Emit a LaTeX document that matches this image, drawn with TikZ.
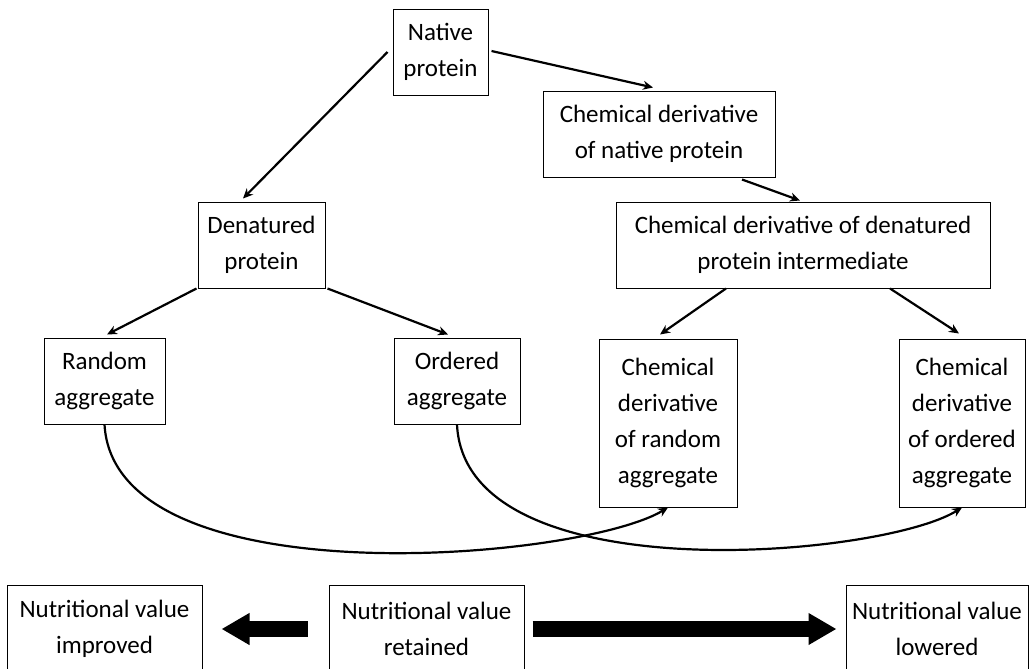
\documentclass[tikz,border=0pt]{standalone}
\usepackage{fontspec}
\setmainfont{Carlito}
\usepackage{tikz}
\usetikzlibrary{positioning, arrows.meta}

\tikzset{
	box/.style={draw, line width=0.5pt, align=center, inner sep=0pt, minimum height=43pt, font=\fontsize{12.5pt}{18pt}\selectfont},
	tallbox/.style={box, minimum height=84pt},
	lowbox/.style={box, minimum width=97.5pt, minimum height=44pt},
	arr/.style={line width=1.1pt, -{Stealth[length=5pt, width=4.5pt]}},
	fatarrow/.style={line width=8pt, -{Triangle[width=15pt, length=14pt]}}
}

\begin{document}
\begin{tikzpicture}[x=0.5pt, y=-0.5pt]
	\useasboundingbox (0,0) rectangle (1029,669);
	
	\node[box, minimum width=47.5pt] (native) at (440.5,52) {Native\\protein};
	\node[box, minimum width=116pt] (chemnat) at (659,134) {Chemical derivative\\of native protein};
	\node[box, minimum width=63.5pt] (denat) at (261.5,245) {Denatured\\protein};
	\node[box, minimum width=187pt, right=145pt of denat] (chemden) {Chemical derivative of denatured\\protein intermediate};
	
	\node[box, minimum width=60.5pt] (random) at (104.5,381) {Random\\aggregate};
	\node[box, minimum width=63pt, right=114pt of random] (ordered) {Ordered\\aggregate};
	\node[tallbox, minimum width=69pt] (chemrand) at (668,423) {Chemical\\derivative\\of random\\aggregate};
	\node[tallbox, minimum width=63pt, right=80.5pt of chemrand] (chemord) {Chemical\\derivative\\of ordered\\aggregate};
	
	\node[lowbox] (retained) at (426.5,629) {Nutritional value\\retained};
	\node[lowbox, left=63pt of retained] (improved) {Nutritional value\\improved};
	\node[lowbox, minimum width=91pt, right=160.5pt of retained] (lowered) {Nutritional value\\lowered};
	
	\draw[arr] ([shift={(-5,0)}]native.west) -- ([shift={(-18.5,-3)}]denat.north);
	\draw[arr] ([shift={(3,-1)}]native.east) -- ([shift={(-6,-3)}]chemnat.north);
	\draw[arr] ([shift={(83,2)}]chemnat.south) -- ([shift={(-3,-1)}]chemden.north);
	\draw[arr] ([shift={(-1,0)}]denat.south west) -- ([shift={(2.5,-3)}]random.north);
	\draw[arr] ([shift={(2,0)}]denat.south east) -- ([shift={(-9,-3)}]ordered.north);
	\draw[arr] ([shift={(-77,0)}]chemden.south) -- ([shift={(-8,-4)}]chemrand.north);
	\draw[arr] ([shift={(87,0)}]chemden.south) -- ([shift={(-3,-5)}]chemord.north);
	
	\draw[arr] (random.south) .. controls +(10,176) and +(-88,53) .. (chemrand.south);
	\draw[arr] (ordered.south) .. controls +(8,170) and +(-80,50) .. (chemord.south);
	
	\draw[fatarrow, shorten <=10.5pt, shorten >=9.5pt] (retained.west) -- (improved.east);
	\draw[fatarrow, shorten <=4pt, shorten >=4.5pt] (retained.east) -- (lowered.west);
\end{tikzpicture}
\end{document}
